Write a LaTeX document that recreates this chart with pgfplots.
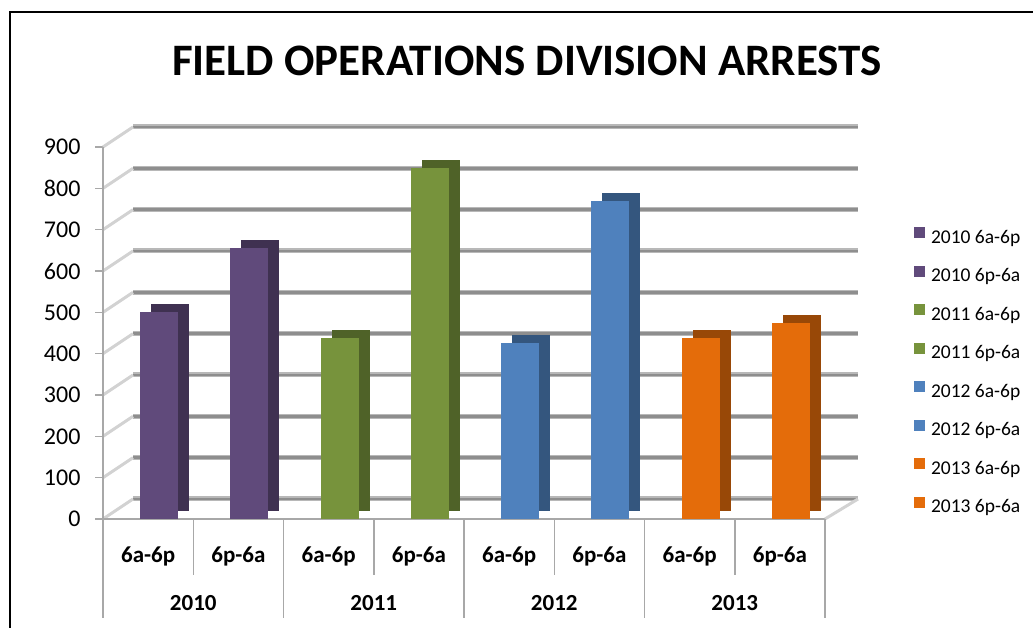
\documentclass[border=0pt]{standalone}
\usepackage{pgfplots}
\pgfplotsset{compat=1.18}
\usepackage{fontspec}
\setmainfont{Carlito}
\definecolor{purpF}{HTML}{604A7B}\definecolor{purpS}{HTML}{3F3151}
\definecolor{grnF}{HTML}{77933C}\definecolor{grnS}{HTML}{4F6228}
\definecolor{bluF}{HTML}{4F81BD}\definecolor{bluS}{HTML}{34567E}
\definecolor{orgF}{HTML}{E46C0A}\definecolor{orgS}{HTML}{984807}
\definecolor{gridA}{HTML}{B8B8B8}\definecolor{gridB}{HTML}{8E8E8E}
\definecolor{axgray}{HTML}{A8A8A8}
\pgfplotsset{
  frontbar/.style={ybar, bar width=38pt, bar shift=11pt, draw=none, fill=#1,
    legend image code/.code={\fill[##1] (0pt,0.7pt) rectangle (11pt,11.7pt);}},
  backbar/.style={ybar, bar width=38pt, bar shift=22pt, yshift=8pt, draw=none, fill=#1, forget plot},
}
\begin{document}
\begin{tikzpicture}[x=1pt,y=1pt]
\path (0pt,0pt) rectangle (1033pt,628pt);
\draw[overlay, line width=2.5pt] (10pt,-20pt) -- (10pt,616pt) -- (1050pt,616pt);
\node[font=\fontsize{45}{50}\selectfont\bfseries, anchor=base] at (527pt,552pt) {FIELD OPERATIONS DIVISION ARRESTS};
\begin{axis}[
  at={(148.125pt,109pt)}, anchor=origin, scale only axis, width=722pt, height=372pt,
  xmin=-0.5, xmax=7.5, ymin=0, ymax=900, clip=false,
  axis line style={draw=none},
  xtick={0,...,7},
  xticklabels={6a-6p,6p-6a,6a-6p,6p-6a,6a-6p,6p-6a,6a-6p,6p-6a},
  x tick style={draw=none},
  xticklabel style={font=\fontsize{23}{23}\selectfont\bfseries, anchor=base, yshift=-44pt},
  ytick={0,100,...,900}, ytick pos=left, ytick align=outside, major tick length=8pt,
  y tick style={draw=axgray, line width=1.2pt},
  yticklabel style={font=\fontsize{24}{24}\selectfont, xshift=-11pt},
  /pgf/number format/assume math mode=true,
  legend cell align=left,
  legend style={at={(axis description cs:1.1233,0.7844)}, anchor=north west, draw=none, fill=none,
    inner sep=0pt, outer sep=0pt, row sep=17.3pt, column sep=6pt,
    font=\fontsize{19.5}{19.5}\selectfont,
    nodes={inner sep=0pt, text height=14pt, text depth=5pt}},
]
% back wall gridlines and left wall
\pgfplotsinvokeforeach{0,100,...,900}{
  \draw[gridA, line width=5pt] ([xshift=30pt,yshift=20pt]axis cs:-0.5,#1) -- ([xshift=33pt,yshift=20pt]axis cs:7.5,#1);
  \draw[gridB, line width=2.5pt] ([xshift=30pt,yshift=20pt]axis cs:-0.5,#1) -- ([xshift=33pt,yshift=20pt]axis cs:7.5,#1);
  \draw[gray!35, line width=3pt] (axis cs:-0.5,#1) -- ([xshift=30pt,yshift=20pt]axis cs:-0.5,#1);
}
\draw[axgray, line width=2.5pt] (axis cs:-0.5,900) -- (axis cs:-0.5,0);
\draw[axgray, line width=2pt] (axis cs:-0.5,0) -- (axis cs:7.5,0);
\draw[gray!35, line width=3pt] (axis cs:7.5,0) -- ([xshift=33pt,yshift=20pt]axis cs:7.5,0);
\pgfplotsinvokeforeach{-0.5,1.5,3.5,5.5,7.5}{\draw[axgray, line width=1.5pt] (axis cs:#1,0) -- ([yshift=-99pt]axis cs:#1,0);}
\pgfplotsinvokeforeach{0.5,2.5,4.5,6.5}{\draw[axgray, line width=1.5pt] (axis cs:#1,0) -- ([yshift=-56pt]axis cs:#1,0);}
% bars
\addplot[backbar=purpS] coordinates {(0,500)};
\addplot[frontbar=purpF] coordinates {(0,500)};
\addplot[backbar=purpS] coordinates {(1,655)};
\addplot[frontbar=purpF] coordinates {(1,655)};
\addplot[backbar=grnS] coordinates {(2,437)};
\addplot[frontbar=grnF] coordinates {(2,437)};
\addplot[backbar=grnS] coordinates {(3,848)};
\addplot[frontbar=grnF] coordinates {(3,848)};
\addplot[backbar=bluS] coordinates {(4,425)};
\addplot[frontbar=bluF] coordinates {(4,425)};
\addplot[backbar=bluS] coordinates {(5,770)};
\addplot[frontbar=bluF] coordinates {(5,770)};
\addplot[backbar=orgS] coordinates {(6,437)};
\addplot[frontbar=orgF] coordinates {(6,437)};
\addplot[backbar=orgS] coordinates {(7,475)};
\addplot[frontbar=orgF] coordinates {(7,475)};
\legend{2010 6a-6p,2010 6p-6a,2011 6a-6p,2011 6p-6a,2012 6a-6p,2012 6p-6a,2013 6a-6p,2013 6p-6a}
% group labels
\node[font=\fontsize{23}{23}\selectfont\bfseries, anchor=base] at ([yshift=-92pt]axis cs:0.5,0) {2010};
\node[font=\fontsize{23}{23}\selectfont\bfseries, anchor=base] at ([yshift=-92pt]axis cs:2.5,0) {2011};
\node[font=\fontsize{23}{23}\selectfont\bfseries, anchor=base] at ([yshift=-92pt]axis cs:4.5,0) {2012};
\node[font=\fontsize{23}{23}\selectfont\bfseries, anchor=base] at ([yshift=-92pt]axis cs:6.5,0) {2013};
\end{axis}
\end{tikzpicture}
\end{document}
